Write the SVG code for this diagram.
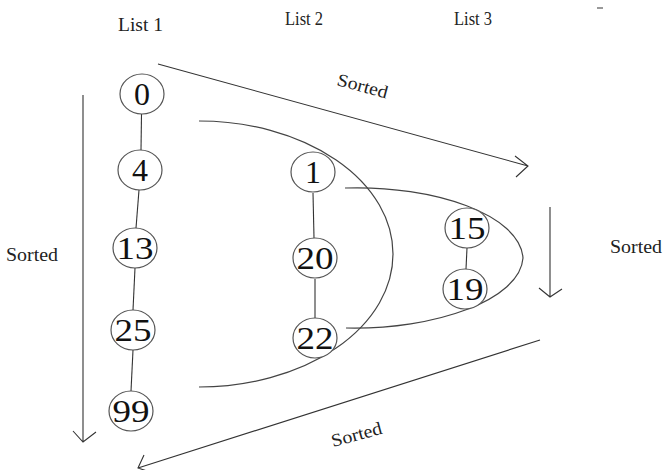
<svg xmlns="http://www.w3.org/2000/svg" width="664" height="470" viewBox="0 0 664 470">
<style>
  .node ellipse { fill: #fff; stroke: #555; stroke-width: 1.2; }
  .node text { font-family: "Liberation Serif", "Times New Roman", serif; font-size: 32px; fill: #111; text-anchor: middle; }
  .lbl { font-family: "Liberation Serif", "Times New Roman", serif; font-size: 18px; fill: #222; }
  .ln { stroke: #333; stroke-width: 1.1; fill: none; }
  .curve { stroke: #444; stroke-width: 1.2; fill: none; }
</style>
<rect width="664" height="470" fill="#fff"/>

<text class="lbl" x="118" y="31" textLength="45" lengthAdjust="spacingAndGlyphs">List 1</text>
<text class="lbl" x="285" y="25" textLength="38" lengthAdjust="spacingAndGlyphs">List 2</text>
<text class="lbl" x="454" y="25" textLength="38" lengthAdjust="spacingAndGlyphs">List 3</text>
<line x1="597" y1="8" x2="603" y2="8" stroke="#555" stroke-width="1.2"/>

<g id="connectors">
  <line class="ln" x1="141.5" y1="114" x2="141" y2="150"/>
  <line class="ln" x1="139" y1="190" x2="136" y2="228"/>
  <line class="ln" x1="135" y1="268" x2="133" y2="310"/>
  <line class="ln" x1="133" y1="350" x2="131" y2="391"/>
  <line class="ln" x1="313" y1="193" x2="314" y2="238"/>
  <line class="ln" x1="315" y1="279" x2="315" y2="318"/>
  <line class="ln" x1="467" y1="248" x2="466" y2="269"/>
  <!-- sorted arrows -->
  <path class="ln" d="M83,95 L83,442 M73,431 L83,442 L96,432"/>
  <path class="ln" d="M158,64 L528,166 M515,156 L528,166 L516,177"/>
  <path class="ln" d="M550,207 L550,297 M539,288 L550,297 L562,289"/>
  <path class="ln" d="M540,340 L138,468 M144,455 L138,468 L150,472"/>
  <!-- grouping curves -->
  <path class="curve" d="M199,121 A194,133 0 0 1 199,387"/>
  <path class="curve" d="M345,188 C435,185 520,215 523,258 C520,300 435,330 346,328"/>
</g>

<text class="lbl" x="6" y="261" textLength="52" lengthAdjust="spacingAndGlyphs">Sorted</text>
<text class="lbl" x="610" y="253" textLength="52" lengthAdjust="spacingAndGlyphs">Sorted</text>
<text class="lbl" transform="translate(336,85) rotate(15)" textLength="52" lengthAdjust="spacingAndGlyphs">Sorted</text>
<text class="lbl" transform="translate(333,447) rotate(-15)" textLength="52" lengthAdjust="spacingAndGlyphs">Sorted</text>

<g id="n0" class="node"><ellipse cx="142" cy="94" rx="22" ry="20"/><text x="142" y="105">0</text></g>
<g id="n4" class="node"><ellipse cx="140" cy="170" rx="22" ry="20"/><text x="140" y="181">4</text></g>
<g id="n13" class="node"><ellipse cx="135" cy="248" rx="22" ry="20"/><text x="135" y="259" textLength="37" lengthAdjust="spacingAndGlyphs">13</text></g>
<g id="n25" class="node"><ellipse cx="133" cy="330" rx="22" ry="20"/><text x="133" y="341" textLength="37" lengthAdjust="spacingAndGlyphs">25</text></g>
<g id="n99" class="node"><ellipse cx="131" cy="411" rx="22" ry="20"/><text x="131" y="422" textLength="37" lengthAdjust="spacingAndGlyphs">99</text></g>
<g id="n1" class="node"><ellipse cx="313" cy="172" rx="22" ry="20"/><text x="313" y="183">1</text></g>
<g id="n20" class="node"><ellipse cx="315" cy="258" rx="22" ry="20"/><text x="315" y="269" textLength="37" lengthAdjust="spacingAndGlyphs">20</text></g>
<g id="n22" class="node"><ellipse cx="315" cy="338" rx="22" ry="20"/><text x="315" y="349" textLength="37" lengthAdjust="spacingAndGlyphs">22</text></g>
<g id="n15" class="node"><ellipse cx="467" cy="228" rx="22" ry="20"/><text x="467" y="239" textLength="37" lengthAdjust="spacingAndGlyphs">15</text></g>
<g id="n19" class="node"><ellipse cx="465" cy="289" rx="22" ry="20"/><text x="465" y="300" textLength="37" lengthAdjust="spacingAndGlyphs">19</text></g>
</svg>
